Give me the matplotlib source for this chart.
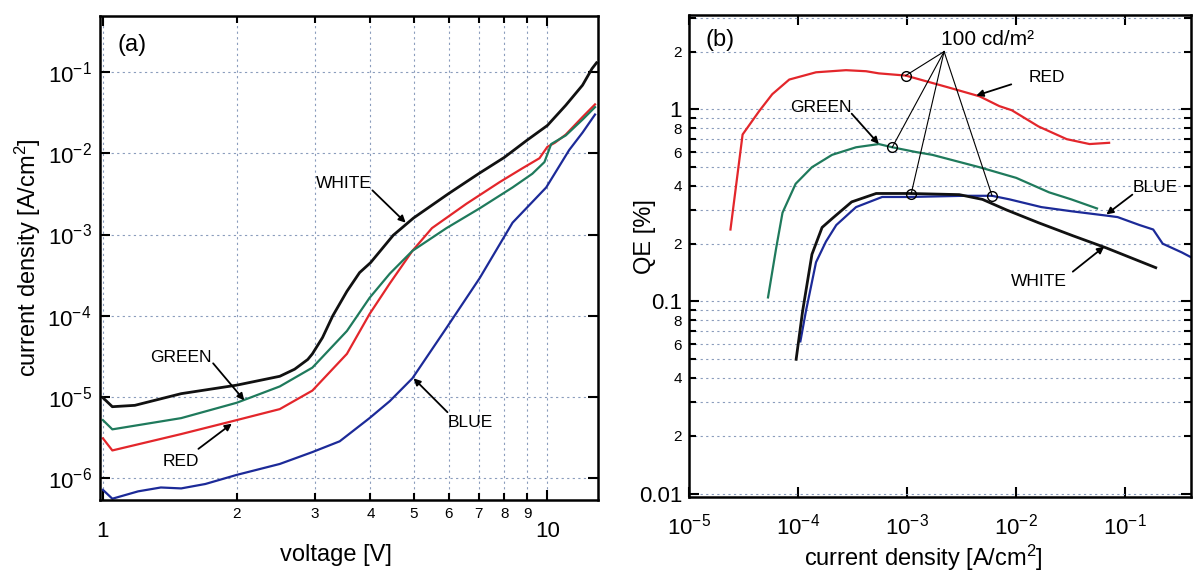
import numpy as np
import matplotlib
matplotlib.use('Agg')
import matplotlib.pyplot as plt
from matplotlib.ticker import FixedLocator, FuncFormatter, NullLocator

plt.rcParams['font.family'] = ['Liberation Sans', 'DejaVu Sans']
plt.rcParams['mathtext.fontset'] = 'custom'
plt.rcParams['mathtext.rm'] = 'Liberation Sans'
plt.rcParams['mathtext.it'] = 'Liberation Sans:italic'
plt.rcParams['mathtext.default'] = 'regular'

# ---- (a) J-V curves: voltage [V], current density [A/cm2]
white_v = [1.0, 1.05, 1.18, 1.5, 2.0, 2.5, 2.7, 2.89, 2.96, 3.12, 3.29, 3.54, 3.78, 4.0, 4.5, 5.0, 6.0, 7.0, 8.0, 9.0, 10.0, 11.0, 12.0, 12.6, 12.9]
white_j = [9.8e-6, 7.6e-6, 7.9e-6, 1.1e-5, 1.4e-5, 1.8e-5, 2.2e-5, 2.9e-5, 3.4e-5, 5.4e-5, 1.0e-4, 2.0e-4, 3.4e-4, 4.5e-4, 9.8e-4, 1.6e-3, 3.2e-3, 5.6e-3, 8.9e-3, 1.45e-2, 2.2e-2, 3.9e-2, 6.9e-2, 1.1e-1, 1.3e-1]

red_v = [1.0, 1.05, 1.5, 2.0, 2.5, 2.96, 3.54, 3.98, 4.42, 4.97, 5.5, 6.58, 7.8, 8.77, 9.6, 10.0, 10.4, 11.0, 12.0, 12.8]
red_j = [3.1e-6, 2.2e-6, 3.5e-6, 5.2e-6, 7.1e-6, 1.2e-5, 3.4e-5, 1.05e-4, 2.5e-4, 6.3e-4, 1.2e-3, 2.4e-3, 4.4e-3, 6.5e-3, 8.7e-3, 1.2e-2, 1.35e-2, 1.7e-2, 2.8e-2, 4.0e-2]

green_v = [1.0, 1.05, 1.5, 2.0, 2.5, 2.96, 3.54, 3.98, 4.42, 4.97, 5.93, 7.04, 8.35, 9.25, 9.85, 10.2, 11.0, 12.0, 12.8]
green_j = [5.2e-6, 4.0e-6, 5.5e-6, 8.5e-6, 1.35e-5, 2.3e-5, 6.5e-5, 1.66e-4, 3.3e-4, 6.3e-4, 1.2e-3, 2.1e-3, 3.8e-3, 5.6e-3, 7.8e-3, 1.3e-2, 1.66e-2, 2.6e-2, 3.7e-2]

blue_v = [1.0, 1.05, 1.2, 1.35, 1.5, 1.7, 2.0, 2.5, 2.96, 3.41, 3.98, 4.42, 4.97, 5.93, 7.04, 8.35, 9.94, 11.2, 12.0, 12.8]
blue_j = [7.2e-7, 5.6e-7, 6.9e-7, 7.7e-7, 7.5e-7, 8.5e-7, 1.1e-6, 1.5e-6, 2.1e-6, 2.85e-6, 5.5e-6, 8.9e-6, 1.7e-5, 7.1e-5, 2.9e-4, 1.4e-3, 3.8e-3, 1.1e-2, 1.8e-2, 3.0e-2]

# ---- (b) QE vs current density
red_qe_j = [2.4e-5, 3.1e-5, 4.4e-5, 5.8e-5, 8.3e-5, 1.46e-4, 2.75e-4, 4.2e-4, 5.5e-4, 9.7e-4, 2.4e-3, 4.6e-3, 7.0e-3, 9.1e-3, 1.6e-2, 2.9e-2, 4.7e-2, 7.1e-2]
red_qe = [0.237, 0.74, 0.98, 1.2, 1.43, 1.56, 1.6, 1.58, 1.54, 1.5, 1.3, 1.17, 1.04, 0.99, 0.815, 0.70, 0.66, 0.67]

green_qe_j = [5.3e-5, 6.3e-5, 7.2e-5, 9.5e-5, 1.34e-4, 2.05e-4, 3.4e-4, 5.5e-4, 7.3e-4, 1.2e-3, 1.7e-3, 4.6e-3, 1.0e-2, 2.0e-2, 3.2e-2, 5.5e-2]
green_qe = [0.105, 0.19, 0.29, 0.41, 0.50, 0.58, 0.635, 0.66, 0.635, 0.60, 0.58, 0.50, 0.44, 0.37, 0.34, 0.305]

white_qe_j = [9.6e-5, 1.1e-4, 1.34e-4, 1.66e-4, 2.05e-4, 3.1e-4, 5.2e-4, 1.05e-3, 3.0e-3, 4.9e-3, 8.1e-3, 1.6e-2, 3.3e-2, 6.7e-2, 1.9e-1]
white_qe = [0.05, 0.089, 0.176, 0.243, 0.27, 0.33, 0.365, 0.365, 0.36, 0.34, 0.30, 0.257, 0.22, 0.19, 0.15]

blue_qe_j = [1.05e-4, 1.18e-4, 1.46e-4, 1.8e-4, 2.24e-4, 3.4e-4, 5.9e-4, 1.05e-3, 3.4e-3, 6.0e-3, 8.7e-3, 1.7e-2, 3.2e-2, 6.7e-2, 8.5e-2, 0.135, 0.18, 0.22, 0.33, 0.4]
blue_qe = [0.062, 0.089, 0.16, 0.205, 0.25, 0.31, 0.35, 0.35, 0.355, 0.355, 0.34, 0.31, 0.295, 0.28, 0.275, 0.25, 0.237, 0.2, 0.18, 0.17]

# current density at 100 cd/m2 for each device
lum100_j = {'red': 9.7e-4, 'green': 7.3e-4, 'white': 1.09e-3, 'blue': 6.0e-3}

C_RED = '#e3262b'
C_GREEN = '#1f7a5c'
C_BLUE = '#1c2a98'
C_BLACK = '#111111'
C_GRID = '#8a9cbc'

fig = plt.figure(figsize=(11.93, 5.72), dpi=100)
ax1 = fig.add_axes([100/1193, 1-500/572, 498/1193, 484/572])
ax2 = fig.add_axes([689/1193, 1-497/572, 502/1193, 482/572])


def sci(v, pos):
    return r'$10^{%d}$' % int(round(np.log10(v)))


def style(ax):
    for s in ax.spines.values():
        s.set_linewidth(1.8)
    ax.tick_params(which='both', direction='in', top=True, right=True, width=1.5)
    ax.tick_params(which='major', length=7)
    ax.tick_params(which='minor', length=5)


# ------------- panel (a)
ax1.plot(white_v, white_j, color=C_BLACK, lw=2.0)
ax1.plot(red_v, red_j, color=C_RED, lw=1.6)
ax1.plot(green_v, green_j, color=C_GREEN, lw=1.6)
ax1.plot(blue_v, blue_j, color=C_BLUE, lw=1.6)
ax1.set_xscale('log')
ax1.set_yscale('log')
ax1.set_xlim(0.985, 13.0)
ax1.set_ylim(5.4e-7, 0.49)
style(ax1)
ax1.xaxis.set_major_locator(FixedLocator([1, 10]))
ax1.xaxis.set_major_formatter(FuncFormatter(lambda v, p: '%d' % v))
ax1.xaxis.set_minor_locator(FixedLocator([2, 3, 4, 5, 6, 7, 8, 9]))
ax1.xaxis.set_minor_formatter(FuncFormatter(lambda v, p: '%d' % v))
ax1.tick_params(axis='x', which='major', labelsize=16, pad=15)
ax1.tick_params(axis='x', which='minor', labelsize=11, pad=5)
ax1.yaxis.set_major_locator(FixedLocator([1e-6, 1e-5, 1e-4, 1e-3, 1e-2, 1e-1]))
ax1.yaxis.set_major_formatter(FuncFormatter(sci))
ax1.yaxis.set_minor_locator(NullLocator())
ax1.tick_params(axis='y', which='major', labelsize=16, pad=6)
ax1.grid(True, which='both', axis='x', color=C_GRID, ls=(0, (2, 3)), lw=0.8)
ax1.grid(True, which='major', axis='y', color=C_GRID, ls=(0, (2, 3)), lw=0.8)
ax1.set_xlabel('voltage [V]', fontsize=17)
ax1.xaxis.set_label_coords(0.474, -0.09)
ax1.set_ylabel('current density [A/cm$^2$]', fontsize=17)
ax1.yaxis.set_label_coords(-0.114, 0.5)
ax1.text(0.064, 0.94, '(a)', transform=ax1.transAxes, fontsize=17, ha='center', va='center')

arr = dict(arrowstyle='-|>', color='black', lw=1.3, mutation_scale=10, shrinkA=0, shrinkB=0)
ax1.annotate('', xy=(4.8, 1.4e-3), xytext=(4.04, 3.5e-3), arrowprops=arr)
ax1.text(3.48, 4.3e-3, 'WHITE', fontsize=12.5, ha='center', va='center')
ax1.annotate('', xy=(2.08, 9.1e-6), xytext=(1.77, 2.6e-5), arrowprops=arr)
ax1.text(1.50, 3.1e-5, 'GREEN', fontsize=12.5, ha='center', va='center')
ax1.annotate('', xy=(1.95, 4.7e-6), xytext=(1.64, 2.3e-6), arrowprops=arr)
ax1.text(1.50, 1.6e-6, 'RED', fontsize=12.5, ha='center', va='center')
ax1.annotate('', xy=(5.0, 1.7e-5), xytext=(5.96, 6.5e-6), arrowprops=arr)
ax1.text(6.7, 4.8e-6, 'BLUE', fontsize=12.5, ha='center', va='center')

# ------------- panel (b)
series_b = {
    'red': (red_qe_j, red_qe, C_RED, 1.6),
    'green': (green_qe_j, green_qe, C_GREEN, 1.6),
    'blue': (blue_qe_j, blue_qe, C_BLUE, 1.6),
    'white': (white_qe_j, white_qe, C_BLACK, 2.0),
}
for name, (xj, yq, col, lw) in series_b.items():
    ax2.plot(xj, yq, color=col, lw=lw)

ax2.set_xscale('log')
ax2.set_yscale('log')
ax2.set_xlim(1e-5, 0.4)
ax2.set_ylim(0.0096, 3.1)
style(ax2)
ax2.xaxis.set_major_locator(FixedLocator([1e-5, 1e-4, 1e-3, 1e-2, 1e-1]))
ax2.xaxis.set_major_formatter(FuncFormatter(sci))
ax2.xaxis.set_minor_locator(NullLocator())
ax2.tick_params(axis='x', which='major', labelsize=16, pad=12)
ax2.yaxis.set_major_locator(FixedLocator([0.01, 0.1, 1]))
ax2.yaxis.set_major_formatter(FuncFormatter(lambda v, p: '%g' % v))
ymin = [m * d for d in (0.01, 0.1) for m in range(2, 10)] + [2, 3]
ax2.yaxis.set_minor_locator(FixedLocator(ymin))


def minor_lab(v, p):
    m = int(round(v / 10 ** np.floor(np.log10(v) + 1e-9)))
    return str(m) if m in (2, 4, 6, 8) else ''


ax2.yaxis.set_minor_formatter(FuncFormatter(minor_lab))
ax2.tick_params(axis='y', which='major', labelsize=16, pad=5)
ax2.tick_params(axis='y', which='minor', labelsize=11, pad=5)
ax2.grid(True, which='both', axis='y', color=C_GRID, ls=(0, (2, 3)), lw=0.8)
ax2.set_xlabel('current density [A/cm$^2$]', fontsize=17)
ax2.xaxis.set_label_coords(0.466, -0.095)
ax2.set_ylabel('QE [%]', fontsize=17)
ax2.yaxis.set_label_coords(-0.066, 0.54)
ax2.text(0.062, 0.948, '(b)', transform=ax2.transAxes, fontsize=17, ha='center', va='center')

# 100 cd/m2 markers and leader lines
hub = (2.18e-3, 2.0)
for name, jv in lum100_j.items():
    xj, yq = series_b[name][0], series_b[name][1]
    q = 10 ** np.interp(np.log10(jv), np.log10(xj), np.log10(yq))
    ax2.plot([hub[0], jv], [hub[1], q], color='black', lw=0.8)
    ax2.plot(jv, q, 'o', mfc='none', mec='black', ms=7, mew=1.0)
ax2.text(5.4e-3, 2.3, '100 cd/m²', fontsize=15, ha='center', va='center')

ax2.annotate('', xy=(4.3e-3, 1.18), xytext=(9.0e-3, 1.35), arrowprops=arr)
ax2.text(1.3e-2, 1.47, 'RED', fontsize=12.5, ha='left', va='center')
ax2.annotate('', xy=(5.5e-4, 0.66), xytext=(3.1e-4, 0.95), arrowprops=arr)
ax2.text(1.63e-4, 1.02, 'GREEN', fontsize=12.5, ha='center', va='center')
ax2.annotate('', xy=(0.067, 0.284), xytext=(0.116, 0.36), arrowprops=arr)
ax2.text(0.19, 0.39, 'BLUE', fontsize=12.5, ha='center', va='center')
ax2.annotate('', xy=(0.064, 0.193), xytext=(0.033, 0.143), arrowprops=arr)
ax2.text(1.6e-2, 0.127, 'WHITE', fontsize=12.5, ha='center', va='center')

fig.savefig('out.png', dpi=100)
